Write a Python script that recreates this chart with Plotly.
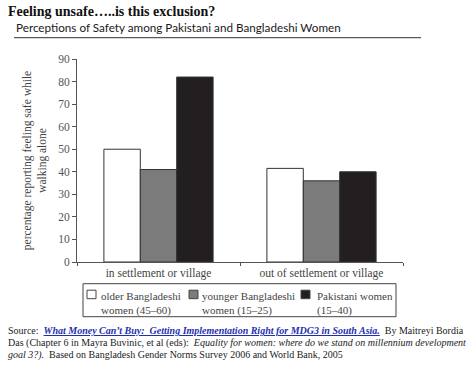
import plotly.graph_objects as go

categories = ["in settlement or village", "out of settlement or village"]
series_names = ["older Bangladeshi<br>women (45–60)",
                "younger Bangladeshi<br>women (15–25)",
                "Pakistani women<br>(15–40)"]
older = [50, 41.5]
younger = [41, 36]
pakistani = [82, 40]
series_values = [older, younger, pakistani]
colors = ["#ffffff", "#7b7b7b", "#231f20"]
y_ticks = [0, 10, 20, 30, 40, 50, 60, 70, 80, 90]

W, H = 466, 369
L, R, T, B = 77, 403, 59.3, 262.3


def px(x):
    return (x - L) / (R - L)


def py(y):
    return (B - y) / (B - T)


serif = "Liberation Serif"
fig = go.Figure()
for name, vals, col in zip(series_names, series_values, colors):
    fig.add_trace(go.Bar(
        x=categories, y=vals, name=name,
        marker=dict(color=col, line=dict(color="#333333", width=1)),
        showlegend=False,
    ))

fig.update_layout(
    width=W, height=H,
    margin=dict(l=L, r=W - R, t=T, b=H - B, pad=0),
    paper_bgcolor="white", plot_bgcolor="white",
    barmode="group", bargap=0.33, bargroupgap=0,
    font=dict(family=serif, size=11, color="#444444"),
    xaxis=dict(
        showline=True, linecolor="#555555", linewidth=1,
        ticks="outside", tickson="boundaries", ticklen=3, tickcolor="#555555",
        tickfont=dict(family=serif, size=11.5, color="#444444"),
        showgrid=False, zeroline=False,
    ),
    yaxis=dict(
        range=[0, 90], tickvals=y_ticks,
        showline=True, linecolor="#555555", linewidth=1,
        ticks="outside", ticklen=4, tickcolor="#555555",
        tickfont=dict(family=serif, size=11.5, color="#555555"),
        showgrid=False, zeroline=False,
        title=dict(text="percentage reporting feeling safe while<br>walking alone",
                   font=dict(family=serif, size=11.5, color="#444444"), standoff=9),
    ),
)

ann = []
# titles
ann.append(dict(x=px(6), y=py(12), xref="paper", yref="paper", xanchor="left", yanchor="middle",
                text="<b>Feeling unsafe…..is this exclusion?</b>", showarrow=False,
                font=dict(family=serif, size=14, color="#111111")))
ann.append(dict(x=px(14), y=py(27), xref="paper", yref="paper", xanchor="left", yanchor="middle",
                text="Perceptions of Safety among Pakistani and Bangladeshi Women", showarrow=False,
                font=dict(family="Lato", size=11.7, color="#1a1a1a")))

shapes = [dict(type="line", xref="paper", yref="paper", x0=px(14), x1=px(421), y0=py(38), y1=py(38),
               line=dict(color="#333333", width=1))]

# legend box
shapes.append(dict(type="rect", xref="paper", yref="paper", x0=px(83), x1=px(396), y0=py(284), y1=py(317),
                   line=dict(color="#444444", width=1), fillcolor="white"))
sym_x = [87, 189, 301]
txt_x = [99, 200, 315]
for sx, tx, col, name in zip(sym_x, txt_x, colors, series_names):
    shapes.append(dict(type="rect", xref="paper", yref="paper", x0=px(sx), x1=px(sx + 9),
                       y0=py(290.5), y1=py(299), line=dict(color="#444444", width=1), fillcolor=col))
    ann.append(dict(x=px(tx), y=py(303.5), xref="paper", yref="paper", xanchor="left", yanchor="middle",
                    align="left", text=name, showarrow=False,
                    font=dict(family=serif, size=11, color="#444444")))

# source
src_font = dict(family=serif, size=10, color="#222222")
lines = [
    "Source:&nbsp; <span style='color:#1f2fb0'><b><i><u>What Money Can’t Buy:&nbsp; Getting Implementation Right for MDG3 in South Asia.</u></i></b></span>&nbsp; By Maitreyi Bordia",
    "Das (Chapter 6 in Mayra Buvinic, et al (eds):&nbsp; <i>Equality for women: where do we stand on millennium development</i>",
    "<i>goal 3?).</i>&nbsp; Based on Bangladesh Gender Norms Survey 2006 and World Bank, 2005",
]
for i, t in enumerate(lines):
    ann.append(dict(x=px(6), y=py(331 + 12 * i), xref="paper", yref="paper", xanchor="left",
                    yanchor="middle", text=t, showarrow=False, font=src_font))

fig.update_layout(annotations=ann, shapes=shapes)
fig.write_html("out.html", config={"displayModeBar": False},
               post_script="document.body.style.margin='0';document.body.style.overflow='hidden';")
